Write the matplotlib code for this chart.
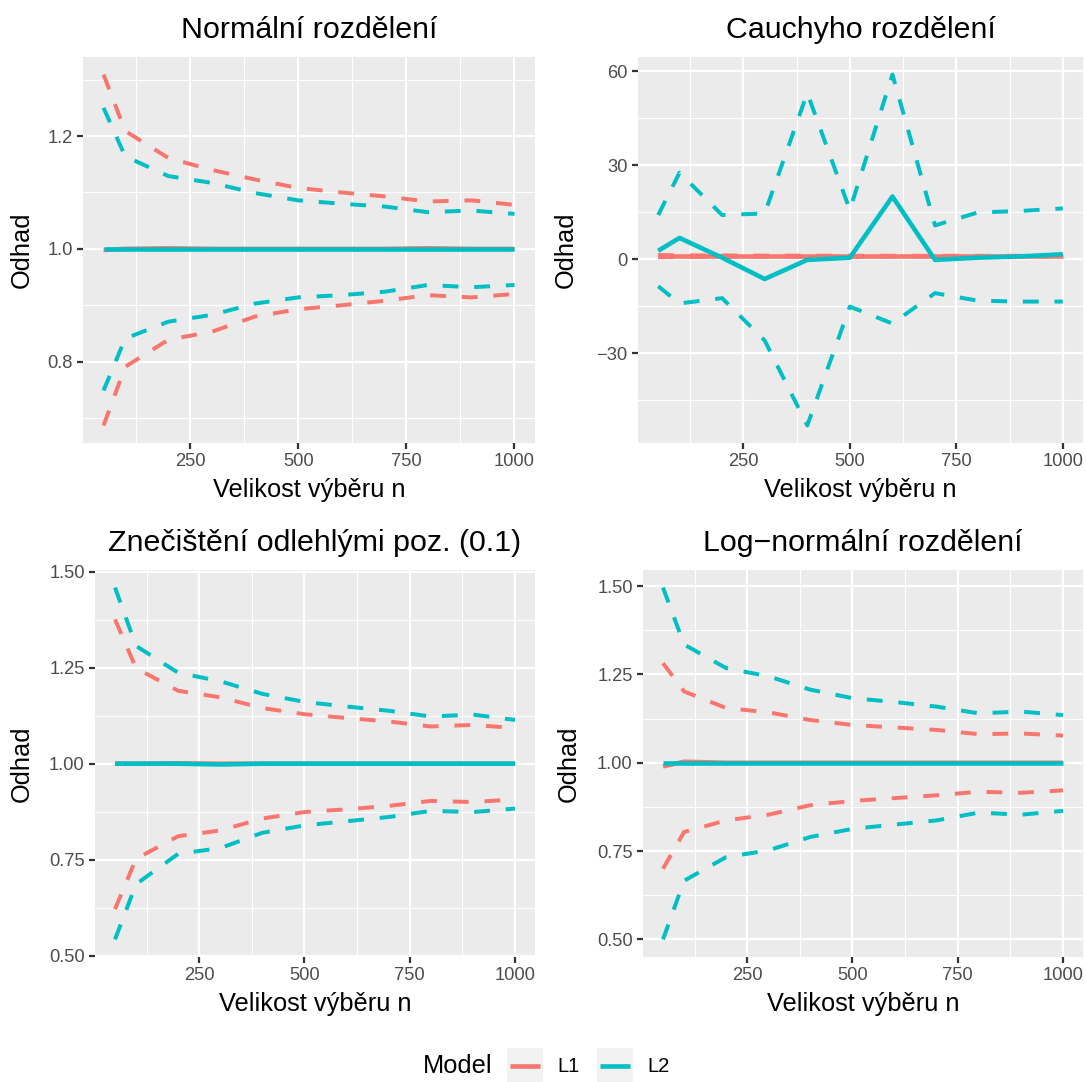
import matplotlib
matplotlib.use("Agg")
import matplotlib.pyplot as plt
from matplotlib.lines import Line2D
from matplotlib.patches import Rectangle
from matplotlib.ticker import FixedLocator

plt.rcParams['font.family'] = ['Liberation Sans', 'DejaVu Sans']

n = [50, 100, 200, 300, 400, 500, 600, 700, 800, 900, 1000]
models = ["L1", "L2"]
titles = ["Normální rozdělení", "Cauchyho rozdělení",
          "Znečištění odlehlými poz. (0.1)", "Log\u2212normální rozdělení"]

# Normal
norm_L1_mean = [0.998, 1.000, 1.001, 1.000, 1.000, 1.000, 1.000, 1.000, 1.001, 1.000, 1.000]
norm_L1_up = [1.309, 1.209, 1.161, 1.140, 1.123, 1.108, 1.100, 1.093, 1.084, 1.086, 1.078]
norm_L1_lo = [0.687, 0.791, 0.839, 0.853, 0.880, 0.893, 0.900, 0.908, 0.918, 0.914, 0.920]
norm_L2_mean = [1.000, 1.000, 1.000, 1.000, 1.000, 1.000, 1.000, 1.000, 1.000, 1.000, 1.000]
norm_L2_up = [1.250, 1.164, 1.129, 1.117, 1.099, 1.086, 1.080, 1.075, 1.065, 1.068, 1.062]
norm_L2_lo = [0.749, 0.841, 0.871, 0.883, 0.903, 0.914, 0.918, 0.924, 0.936, 0.932, 0.936]

# Cauchy
cau_L1_mean = [1.0, 1.0, 1.0, 1.0, 1.0, 1.0, 1.0, 1.0, 1.0, 1.0, 1.0]
cau_L1_up = [1.35, 1.25, 1.2, 1.15, 1.15, 1.12, 1.12, 1.1, 1.1, 1.1, 1.08]
cau_L1_lo = [0.65, 0.75, 0.8, 0.85, 0.85, 0.88, 0.88, 0.9, 0.9, 0.9, 0.92]
cau_L2_mean = [2.7, 6.8, 0.5, -6.3, -0.2, 0.5, 20.0, -0.2, 0.5, 0.9, 1.6]
cau_L2_up = [14.1, 27.6, 14.1, 14.6, 53.0, 15.7, 58.9, 10.8, 14.9, 15.4, 16.2]
cau_L2_lo = [-8.6, -14.1, -12.4, -25.9, -53.0, -15.1, -20.5, -10.8, -13.2, -13.5, -13.5]

# Contaminated
con_L1_mean = [1.000, 1.000, 1.001, 1.000, 1.000, 1.000, 1.000, 1.000, 1.000, 1.000, 1.000]
con_L1_up = [1.376, 1.249, 1.190, 1.173, 1.145, 1.129, 1.119, 1.110, 1.097, 1.101, 1.093]
con_L1_lo = [0.621, 0.752, 0.811, 0.826, 0.857, 0.874, 0.881, 0.890, 0.903, 0.900, 0.907]
con_L2_mean = [1.000, 1.000, 1.000, 0.998, 1.000, 1.000, 1.000, 1.000, 1.000, 1.000, 1.000]
con_L2_up = [1.459, 1.307, 1.237, 1.215, 1.182, 1.161, 1.149, 1.138, 1.123, 1.128, 1.114]
con_L2_lo = [0.542, 0.686, 0.765, 0.780, 0.820, 0.839, 0.850, 0.861, 0.877, 0.874, 0.883]

# Log-normal
log_L1_mean = [0.990, 1.003, 1.000, 1.000, 1.000, 1.000, 1.000, 1.000, 1.000, 1.000, 1.000]
log_L1_up = [1.282, 1.202, 1.155, 1.143, 1.121, 1.107, 1.100, 1.093, 1.081, 1.083, 1.077]
log_L1_lo = [0.700, 0.804, 0.837, 0.853, 0.880, 0.892, 0.900, 0.908, 0.918, 0.915, 0.922]
log_L2_mean = [1.000, 1.000, 1.000, 1.000, 1.000, 1.000, 1.000, 1.000, 1.000, 1.000, 1.000]
log_L2_up = [1.496, 1.335, 1.268, 1.245, 1.207, 1.183, 1.172, 1.159, 1.140, 1.145, 1.135]
log_L2_lo = [0.500, 0.666, 0.733, 0.752, 0.790, 0.813, 0.825, 0.837, 0.859, 0.853, 0.864]

panels = [
    (norm_L1_mean, norm_L1_up, norm_L1_lo, norm_L2_mean, norm_L2_up, norm_L2_lo),
    (cau_L1_mean, cau_L1_up, cau_L1_lo, cau_L2_mean, cau_L2_up, cau_L2_lo),
    (con_L1_mean, con_L1_up, con_L1_lo, con_L2_mean, con_L2_up, con_L2_lo),
    (log_L1_mean, log_L1_up, log_L1_lo, log_L2_mean, log_L2_up, log_L2_lo),
]
y_major = [[0.8, 1.0, 1.2], [-30, 0, 30, 60],
           [0.50, 0.75, 1.00, 1.25, 1.50], [0.50, 0.75, 1.00, 1.25, 1.50]]
y_minor = [[0.7, 0.9, 1.1, 1.3], [-45, -15, 15, 45],
           [0.625, 0.875, 1.125, 1.375], [0.625, 0.875, 1.125, 1.375]]
y_fmt = ["{:.1f}", "{:.0f}", "{:.2f}", "{:.2f}"]
x_major = [250, 500, 750, 1000]
x_minor = [125, 375, 625, 875]

colors = {"L1": "#F8766D", "L2": "#00BFC4"}

W, H = 1086, 1082
DPI = 150
fig = plt.figure(figsize=(W / DPI, H / DPI), dpi=DPI)

# (left, top, right, bottom) in pixels
boxes = [(83, 57, 535, 443), (638, 57, 1083, 443),
         (95, 570, 535, 957), (643, 570, 1083, 957)]
ylab_x = [22, 566, 22, 569]

for i, (box, data) in enumerate(zip(boxes, panels)):
    l, t, r, b = box
    ax = fig.add_axes([l / W, 1 - b / H, (r - l) / W, (b - t) / H])
    ax.set_facecolor("#EBEBEB")
    for s in ax.spines.values():
        s.set_visible(False)
    m1, u1, lo1, m2, u2, lo2 = data
    for (mean, up, lo), mdl in [((m1, u1, lo1), "L1"), ((m2, u2, lo2), "L2")]:
        c = colors[mdl]
        ax.plot(n, up, color=c, lw=1.9, ls=(0, (4, 4)), dash_capstyle='butt', zorder=3)
        ax.plot(n, lo, color=c, lw=1.9, ls=(0, (4, 4)), dash_capstyle='butt', zorder=3)
        ax.plot(n, mean, color=c, lw=2.2, solid_capstyle='butt', zorder=3)
    ax.set_xlim(50 - 47.5, 1000 + 47.5)
    allv = [v for arr in data for v in arr]
    lo_, hi_ = min(allv), max(allv)
    pad = 0.05 * (hi_ - lo_)
    ax.set_ylim(lo_ - pad, hi_ + pad)
    ax.xaxis.set_major_locator(FixedLocator(x_major))
    ax.xaxis.set_minor_locator(FixedLocator(x_minor))
    ax.yaxis.set_major_locator(FixedLocator(y_major[i]))
    ax.yaxis.set_minor_locator(FixedLocator(y_minor[i]))
    ax.set_yticklabels([y_fmt[i].format(v).replace("-", "\u2212") for v in y_major[i]])
    ax.set_xticklabels([str(v) for v in x_major])
    ax.grid(which="major", color="white", lw=1.07, zorder=0)
    ax.grid(which="minor", color="white", lw=0.53, zorder=0)
    ax.set_axisbelow(True)
    ax.tick_params(which="major", length=2.75, width=1.07, color="#333333",
                   labelsize=8.8, labelcolor="#4D4D4D", pad=2.2)
    ax.tick_params(which="minor", length=0)
    fig.text(((l + r) / 2) / W, 1 - (t - 19) / H, titles[i],
             ha="center", va="baseline", fontsize=14.6)
    fig.text(((l + r) / 2) / W, 1 - (b + 47) / H, "Velikost výběru n",
             ha="center", va="center", fontsize=12.2)
    fig.text(ylab_x[i] / W, 1 - ((t + b) / 2) / H, "Odhad", rotation=90,
             ha="center", va="center", fontsize=12.2)

# Legend
ly = 1066
fig.text(458 / W, 1 - ly / H, "Model", ha="center", va="center", fontsize=12.2)
for x0, mdl in [(507, "L1"), (597, "L2")]:
    fig.add_artist(Rectangle((x0 / W, 1 - (ly + 18) / H), 36 / W, 36 / H,
                             transform=fig.transFigure, facecolor="#F2F2F2",
                             edgecolor="none"))
    fig.add_artist(Line2D([(x0 + 3) / W, (x0 + 33) / W], [1 - ly / H, 1 - ly / H],
                          transform=fig.transFigure, color=colors[mdl], lw=2.2,
                          solid_capstyle="butt"))
    fig.text((x0 + 50) / W, 1 - ly / H, mdl, ha="left", va="center", fontsize=9.7)

fig.savefig("out.png", dpi=DPI)
